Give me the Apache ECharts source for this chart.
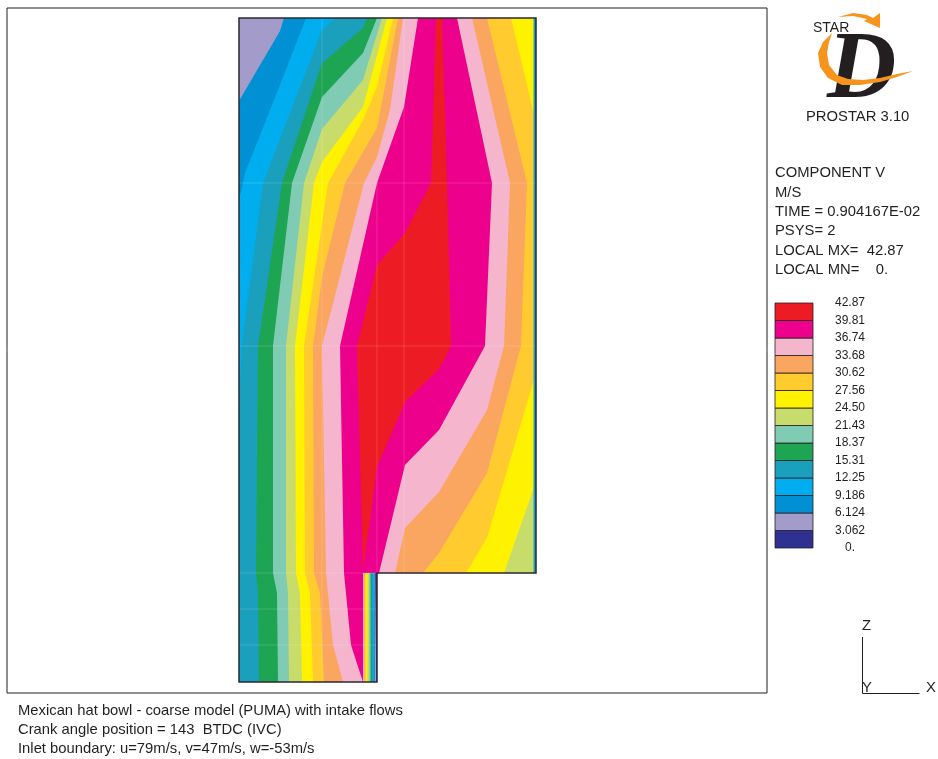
<!DOCTYPE html>
<html><head><meta charset="utf-8">
<style>html,body{margin:0;padding:0;background:#fff}#c{width:938px;height:759px}</style>
<script src="https://cdn.jsdelivr.net/npm/echarts@6/dist/echarts.min.js"></script>
</head><body><div id="c"></div>
<script>
// Colour scale: band value limits, printed tick labels, band colours (low to high)
const levels = [0,3.062,6.124,9.186,12.25,15.31,18.37,21.43,24.50,27.56,30.62,33.68,36.74,39.81,42.87];
const levelLabels = ['0.','3.062','6.124','9.186','12.25','15.31','18.37','21.43','24.50','27.56','30.62','33.68','36.74','39.81','42.87'];
const bandColors = ['#2e3192','#a39bc9','#0090d3','#00aeef','#1a9fbd','#1ea554','#80cbb4','#c8dc6b','#fff200','#ffcb2f','#faa661','#f5b6cd','#ec008c','#ed1c24'];

// Domain outline in model coordinates [x, z]
const domain = [[0,664],[297,664],[297,109],[138,109],[138,0],[0,0]];

// Contour lines of component V [x, z]; "Left" runs top to bottom
const iso6Left  = [[45,664],[41,651],[0,581]];
const iso9Left  = [[67,664],[41,597],[6,509],[4,499],[0,482]];
const iso12Left = [[96,664],[83,652],[24,499],[3,339],[0,275]];
const iso15Left = [[128,664],[124,654],[83,619],[43,499],[19,336],[17,109],[19,89],[20,0]];
const iso18Left = [[138,664],[124,629],[83,585],[53,499],[34,336],[34,109],[38,89],[39,0]];
const iso21Left = [[143,664],[124,602],[83,553],[65,499],[47,336],[47,109],[49,89],[50,0]];
const iso24Left = [[148,664],[124,575],[83,520],[75,499],[56,336],[57,109],[61,89],[63,0]];
const iso27Left = [[154,664],[138,595],[124,562],[89,499],[65,336],[66,109],[71,89],[74,0]];
const iso30Left = [[159,664],[138,554],[106,499],[83,405],[74,336],[75,109],[81,89],[85,0]];
const iso33Left = [[164,664],[151,572],[138,525],[125,499],[83,336],[87,109],[94,37],[104,0]];
const iso36Left = [[179,664],[165,575],[138,499],[101,336],[105,109],[112,37],[124,0]];
const iso39Left = [[197,664],[192,499],[166,449],[138,417],[118,336],[124,112]];
// "Right" runs bottom to top
const iso39Right = [[138,215],[166,280],[200,313],[212,336],[208,499],[203,664]];
const iso36Right = [[125,109],[140,109],[166,217],[200,252],[246,336],[253,499],[218,664]];
const iso33Right = [[138,0],[138,109],[156,109],[166,154],[200,190],[248,272],[265,336],[271,499],[233,664]];
const iso30Right = [[138,0],[138,109],[184,109],[200,129],[248,209],[282,336],[288,499],[248,664]];
const iso27Right = [[138,0],[138,109],[227,109],[248,144],[294,299],[297,310],[297,560],[294,572],[272,664]];
const iso24Right = [[138,0],[138,109],[265,109],[294,192],[297,201],[297,664]];
const wallRight  = [[138,0],[138,109],[297,109],[297,664]];
const wallLeftBottom = [[0,0],[138,0],[138,109],[297,109],[297,664]];

// Narrow near-wall layer beside the inlet: x of each contour at z=109 and z=0
const layerLevels = [1,2,3,4,5,6,7,8,9,10,11];
const layerTop    = [136.2,135.6,135,134,132.6,131.5,130,128.5,126.6,125.6,125];
const layerBottom = [137.2,136,135.2,134.2,132.8,131.6,130,128.4,126.8,125.8,125.2];

// Cell lines of the computing mesh
const meshLines = [
  [[83,0],[83,664]],[[165,109],[165,664]],[[138,109],[138,499]],
  [[0,499],[297,499]],[[0,336],[297,336]],[[0,109],[138,109]],[[0,73],[138,73]],[[0,37],[138,37]]
];

const fieldBands = [
  {lvl:1, pts:domain},
  {lvl:2, pts:iso6Left.concat(wallLeftBottom)},
  {lvl:3, pts:iso9Left.concat(wallLeftBottom)},
  {lvl:4, pts:iso12Left.concat(wallLeftBottom)},
  {lvl:5, pts:iso15Left.concat(wallRight)},
  {lvl:6, pts:iso18Left.concat(wallRight)},
  {lvl:7, pts:iso21Left.concat(wallRight)},
  {lvl:8, pts:iso24Left.concat(iso24Right)},
  {lvl:9, pts:iso27Left.concat(iso27Right)},
  {lvl:10,pts:iso30Left.concat(iso30Right)},
  {lvl:11,pts:iso33Left.concat(iso33Right)},
  {lvl:12,pts:iso36Left.concat(iso36Right)},
  {lvl:13,pts:iso39Left.concat(iso39Right)},
  {lvl:0, pts:[[124,0],[124,109],[138,109],[138,0]]}
];
layerLevels.forEach((l,i)=>fieldBands.push({lvl:l,pts:[[124,0],[124,109],[layerTop[i],109],[layerBottom[i],0]]}));
fieldBands.push({lvl:4,pts:[[294.5,109],[294.5,664],[297,664],[297,109]]});

const textColor = '#231f20';
const font = 'Liberation Sans';
const txt = (text,x,y,size,extra)=>({type:'text',x,y,silent:true,z:20,
  style:Object.assign({text,fill:textColor,font:size+'px "'+font+'"',textVerticalAlign:'middle'},extra||{})});
const infoLines = ['COMPONENT V','M/S','TIME = 0.904167E-02','PSYS= 2','LOCAL MX=  42.87','LOCAL MN=    0.'];
const infoY = [173,193,212,231,251,270];
const captionLines = ['Mexican hat bowl - coarse model (PUMA) with intake flows','Crank angle position = 143  BTDC (IVC)','Inlet boundary: u=79m/s, v=47m/s, w=-53m/s'];
const captionY = [711,730,749];

const chart = echarts.init(document.getElementById('c'),null,{renderer:'canvas'});
chart.setOption({
  animation:false,
  backgroundColor:'#fff',
  grid:[
    {left:7,top:8,width:760,height:685,show:true,borderColor:'#231f20',borderWidth:1,backgroundColor:'#fff',containLabel:false},
    {left:775,top:303,width:38,height:245,containLabel:false}
  ],
  xAxis:[
    {gridIndex:0,type:'value',min:-232,max:528,show:false},
    {gridIndex:1,type:'value',min:0,max:1,show:false}
  ],
  yAxis:[
    {gridIndex:0,type:'value',min:-11,max:674,show:false},
    {gridIndex:1,type:'value',position:'right',min:0,max:42.87,
      axisLine:{show:false},axisTick:{show:false},splitLine:{show:false},
      axisLabel:{customValues:levels,margin:37,align:'center',color:textColor,fontFamily:font,fontSize:12,showMinLabel:true,showMaxLabel:true,
        formatter:v=>levelLabels[levels.indexOf(v)]}}
  ],
  series:[
    {type:'custom',xAxisIndex:0,yAxisIndex:0,silent:true,clip:true,z:2,
      data:fieldBands.map((b,i)=>[i]),
      renderItem:(p,api)=>{const b=fieldBands[api.value(0)];
        return {type:'polygon',shape:{points:b.pts.map(q=>api.coord(q))},style:{fill:bandColors[b.lvl],stroke:null}};}},
    {type:'custom',xAxisIndex:0,yAxisIndex:0,silent:true,clip:true,z:3,
      data:meshLines.map((b,i)=>[i]),
      renderItem:(p,api)=>({type:'polyline',shape:{points:meshLines[api.value(0)].map(q=>api.coord(q))},
        style:{stroke:'rgba(255,255,255,0.15)',lineWidth:1,fill:null}})},
    {type:'custom',xAxisIndex:0,yAxisIndex:0,silent:true,clip:false,z:4,
      data:[[0]],
      renderItem:(p,api)=>({type:'polygon',shape:{points:domain.map(q=>api.coord(q))},
        style:{fill:null,stroke:'#2b2830',lineWidth:1.5}})},
    {type:'custom',xAxisIndex:1,yAxisIndex:1,silent:true,z:2,
      data:bandColors.map((c,i)=>[i]),
      renderItem:(p,api)=>{const i=api.value(0);const a=api.coord([0,levels[i+1]]);const b=api.coord([1,levels[i]]);
        return {type:'rect',shape:{x:a[0],y:a[1],width:b[0]-a[0],height:b[1]-a[1]},
          style:{fill:bandColors[i],stroke:'#231f20',lineWidth:0.8}};}}
  ],
  graphic:{elements:[
    // logo
    txt('D',827,72,96,{font:'italic bold 96px "Liberation Serif"'}),
    {type:'polygon',silent:true,z:21,shape:{points:[[832,33],[823,42],[818,53],[820,67],[828,78],[842,85],[860,85],[880,82],[897,77],[913,71],[897,74],[880,78],[863,80],[848,79],[837,75],[829,65],[827,53],[829,42]]},style:{fill:'#f7941d'}},
    {type:'polygon',silent:true,z:21,shape:{points:[[838,17],[853,13],[867,15],[873,18],[880,13],[880,28],[864,21],[867,19],[853,16]]},style:{fill:'#f7941d'}},
    txt('STAR',813,28,14),
    txt('PROSTAR 3.10',806,117,14.8),
    // run information
    ...infoLines.map((t,i)=>txt(t,775,infoY[i],14.8)),
    ...captionLines.map((t,i)=>txt(t,18,captionY[i],14.8)),
    // coordinate triad
    {type:'polyline',silent:true,z:20,shape:{points:[[862.5,637],[862.5,693.5],[919.5,693.5]]},style:{stroke:textColor,lineWidth:1,fill:null}},
    txt('Z',862,626,14.8),
    txt('Y',862,688,14.8),
    txt('X',926,688,14.8)
  ]}
});
</script></body></html>
